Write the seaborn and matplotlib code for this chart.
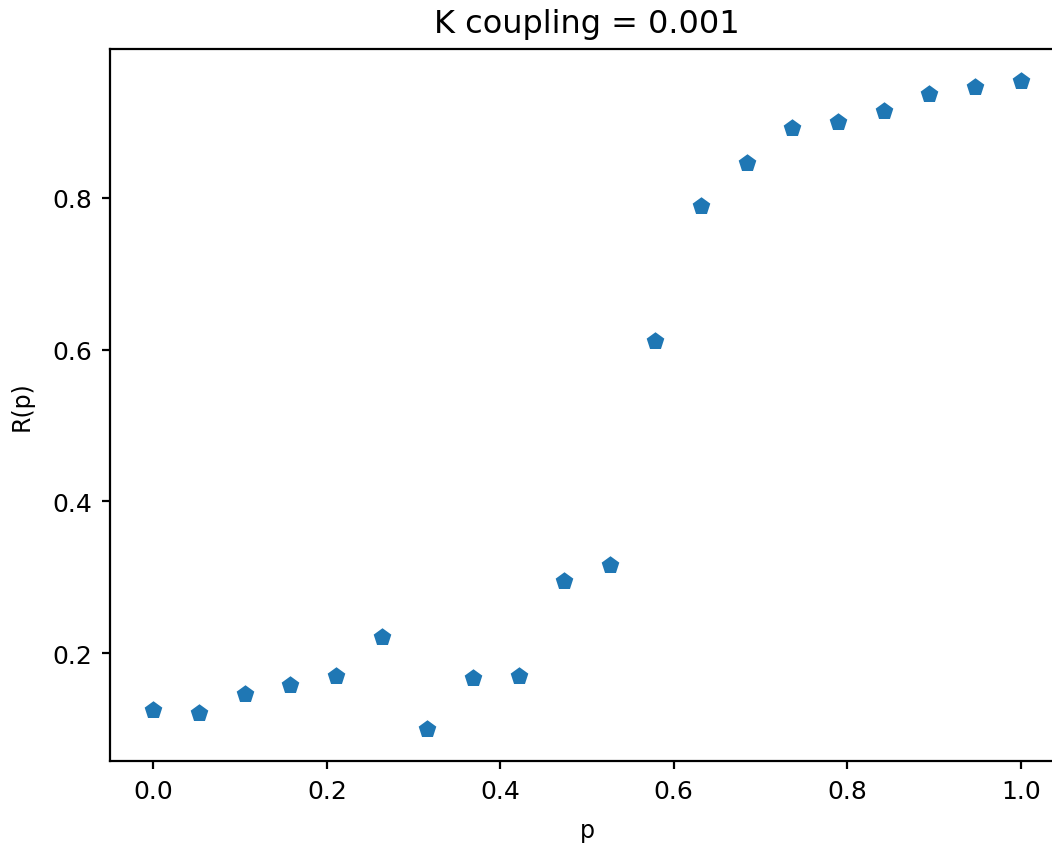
import matplotlib
matplotlib.use("Agg")
import matplotlib.pyplot as plt
import seaborn as sns
import numpy as np
import pandas as pd

p_values = [0.0, 0.0526, 0.1053, 0.1579, 0.2105, 0.2632, 0.3158, 0.3684, 0.4211, 0.4737,
            0.5263, 0.5789, 0.6316, 0.6842, 0.7368, 0.7895, 0.8421, 0.8947, 0.9474, 1.0]
r_values = [0.125, 0.122, 0.146, 0.158, 0.170, 0.221, 0.101, 0.167, 0.170, 0.295,
            0.317, 0.611, 0.789, 0.846, 0.891, 0.899, 0.914, 0.937, 0.945, 0.953]
xticks = [0.0, 0.2, 0.4, 0.6, 0.8, 1.0]
yticks = [0.2, 0.4, 0.6, 0.8]

df = pd.DataFrame({"p": p_values, "R(p)": r_values})

fig = plt.figure(figsize=(5.26, 4.225), dpi=200)
ax = fig.add_axes([110/1052, 83/845, 954/1052, 712/845])
sns.scatterplot(data=df, x="p", y="R(p)", marker="p", s=55, color="#1f77b4", ax=ax)
ax.set_xlim(-0.05, 1.05)
ax.set_xticks(xticks)
ax.set_yticks(yticks)
ax.tick_params(labelsize=9, length=3)
ax.set_xlabel("p", fontsize=8.5, labelpad=5.5)
ax.set_ylabel("R(p)", fontsize=8.5, labelpad=6.5)
ax.set_title("K coupling = 0.001", fontsize=11.5)
fig.savefig("out.png", dpi=200)
